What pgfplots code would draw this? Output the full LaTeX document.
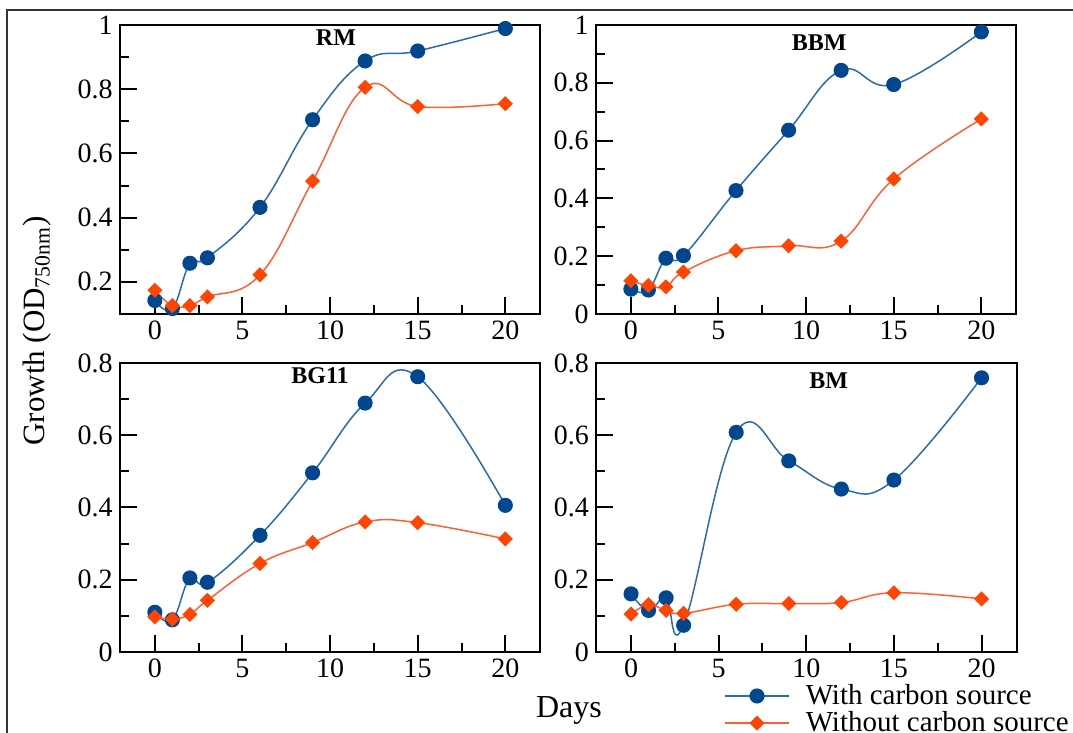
\documentclass[border=0pt]{standalone}
\usepackage{fontspec}
\setmainfont{Liberation Serif}
\usepackage{pgfplots}
\pgfplotsset{compat=1.18}

\definecolor{cblue}{RGB}{0,71,143}
\definecolor{cblueline}{RGB}{45,105,175}
\definecolor{corange}{RGB}{255,69,0}
\definecolor{corangeline}{RGB}{255,95,55}

\tikzset{ttl/.style={font=\bfseries\fontsize{12}{14}\selectfont}}

\pgfplotsset{
  panel/.style={
    scale only axis, width=210.3pt, height=144.5pt,
    anchor=south west,
    xmin=-2, xmax=22, xtick={0,5,10,15,20}, minor x tick num=1,
    minor y tick num=1,
    xtick pos=left, ytick pos=left, tick align=inside,
    major tick length=8.5pt, minor tick length=4.5pt,
    axis line style={line width=1pt},
    every tick/.style={line width=1pt, black},
    tick label style={font=\fontsize{14}{15}\selectfont},
    /pgf/number format/assume math mode=true,
    /pgf/number format/fixed,
  },
  withc/.style={color=cblueline, line width=0.75pt, smooth, tension=0.7,
    mark=*, mark size=3.4pt, mark options={fill=cblue, draw=cblue}},
  withoutc/.style={color=corangeline, line width=0.75pt, smooth, tension=0.7,
    mark=square*, mark size=2.3pt, mark options={rotate=45, fill=corange, draw=corange}},
}

\begin{document}
\begin{tikzpicture}[x=0.5pt, y=0.5pt]

% RM
\begin{axis}[panel, at={(59.9pt,209.5pt)}, ymin=0.1, ymax=1, ytick={0.2,0.4,0.6,0.8,1}]
  \addplot[withc] coordinates {(0,0.142) (1,0.117) (2,0.258) (3,0.275) (6,0.432) (9,0.705) (12,0.888) (15,0.919) (20,0.989)};
  \addplot[withoutc] coordinates {(0,0.174) (1,0.126) (2,0.126) (3,0.153) (6,0.222) (9,0.514) (12,0.806) (15,0.746) (20,0.755)};
  \node[ttl] at (rel axis cs:0.514,0.955) {RM};
\end{axis}

% BBM
\begin{axis}[panel, at={(297.9pt,209.5pt)}, ymin=0, ymax=1, ytick={0,0.2,0.4,0.6,0.8,1}]
  \addplot[withc] coordinates {(0,0.086) (1,0.083) (2,0.193) (3,0.202) (6,0.427) (9,0.636) (12,0.843) (15,0.794) (20,0.976)};
  \addplot[withoutc] coordinates {(0,0.115) (1,0.098) (2,0.094) (3,0.145) (6,0.219) (9,0.236) (12,0.252) (15,0.467) (20,0.675)};
  \node[ttl] at (rel axis cs:0.531,0.94) {BBM};
\end{axis}

% BG11
\begin{axis}[panel, at={(59.9pt,40.5pt)}, ymin=0, ymax=0.8, ytick={0,0.2,0.4,0.6,0.8}]
  \addplot[withc] coordinates {(0,0.110) (1,0.089) (2,0.205) (3,0.193) (6,0.323) (9,0.496) (12,0.689) (15,0.762) (20,0.406)};
  \addplot[withoutc] coordinates {(0,0.097) (1,0.091) (2,0.104) (3,0.143) (6,0.245) (9,0.303) (12,0.360) (15,0.358) (20,0.313)};
  \node[ttl] at (rel axis cs:0.476,0.955) {BG11};
\end{axis}

% BM
\begin{axis}[panel, at={(298pt,40.5pt)}, ymin=0, ymax=0.8, ytick={0,0.2,0.4,0.6,0.8},
  legend style={at={(axis description cs:0.304,-0.097)}, anchor=north west,
    draw=none, fill=none, inner sep=0pt, row sep=-2pt, column sep=6pt,
    font=\fontsize{14.5}{16}\selectfont, cells={anchor=west}},
  legend image code/.code={\draw[mark repeat=2,mark phase=2,#1] plot coordinates {(0pt,0pt) (16pt,0pt) (32pt,0pt)};}]
  \addplot[withc] coordinates {(0,0.161) (1,0.115) (2,0.150) (3,0.074) (6,0.608) (9,0.529) (12,0.451) (15,0.476) (20,0.759)};
  \addplot[withoutc] coordinates {(0,0.105) (1,0.131) (2,0.115) (3,0.107) (6,0.132) (9,0.134) (12,0.137) (15,0.164) (20,0.147)};
  \legend{With carbon source, Without carbon source}
  \node[ttl] at (rel axis cs:0.553,0.938) {BM};
\end{axis}

\node[rotate=90, anchor=base, font=\fontsize{15.5}{17}\selectfont] at (45,402) {Growth (OD\textsubscript{750nm})};
\node[anchor=base, font=\fontsize{16}{18}\selectfont] at (569,15) {Days};
\draw[line width=0.6pt, black!80] (7,0) -- (7,723) -- (1073,723);

\pgfresetboundingbox
\path (0,0) rectangle (1073,733);
\end{tikzpicture}
\end{document}
